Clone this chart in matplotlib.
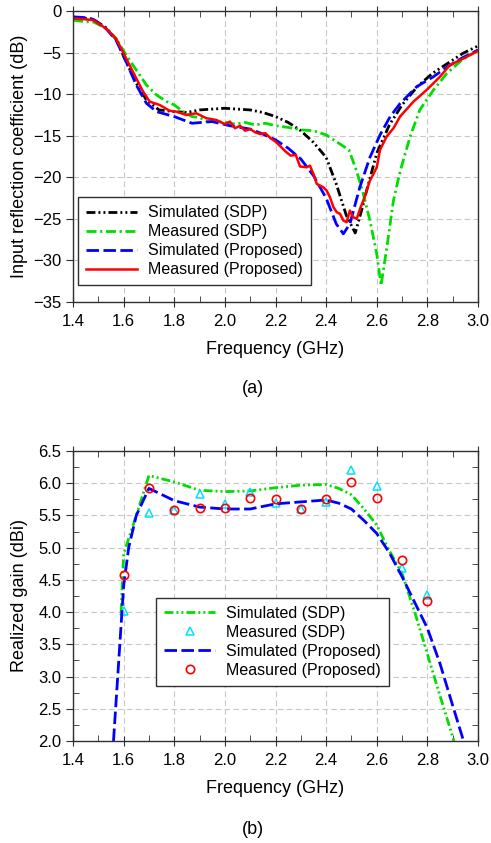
import matplotlib.pyplot as plt
from matplotlib.ticker import MultipleLocator

plt.rcParams["font.family"] = ["Liberation Sans", "DejaVu Sans"]

# (a) input reflection coefficient (dB)
f_sim_sdp = [1.40, 1.45, 1.48, 1.53, 1.57, 1.61, 1.65, 1.69, 1.74, 1.80, 1.85, 1.90, 1.95, 2.00, 2.05,
             2.10, 2.15, 2.20, 2.25, 2.30, 2.35, 2.40, 2.44, 2.48, 2.515, 2.54, 2.56, 2.60, 2.65,
             2.70, 2.76, 2.82, 2.88, 2.94, 3.00]
s_sim_sdp = [-0.8, -0.9, -1.0, -2.0, -3.4, -6.1, -8.7, -10.7, -11.9, -12.1, -12.2, -11.9, -11.8, -11.7, -11.8,
             -11.9, -12.2, -12.7, -13.4, -14.4, -15.8, -17.6, -20.8, -24.6, -26.7, -24.0, -21.6, -17.1, -13.7,
             -11.3, -9.1, -7.5, -6.3, -5.1, -4.2]

f_meas_sdp = [1.40, 1.45, 1.48, 1.53, 1.57, 1.61, 1.65, 1.69, 1.73, 1.77, 1.80, 1.835, 1.87, 1.90, 1.93,
              1.96, 2.00, 2.04, 2.08, 2.12, 2.16, 2.20, 2.25, 2.30, 2.35, 2.40, 2.45, 2.49, 2.52, 2.547,
              2.573, 2.60, 2.617, 2.64, 2.666, 2.693, 2.732, 2.77, 2.824, 2.877, 2.94, 3.00]
s_meas_sdp = [-1.1, -1.3, -1.3, -2.1, -3.3, -5.3, -7.1, -8.9, -10.1, -10.9, -11.3, -12.1, -12.7, -12.8, -13.3,
              -13.3, -13.4, -13.6, -13.4, -13.7, -13.5, -13.8, -14.0, -14.3, -14.4, -14.9, -15.9, -16.7, -19.2, -22.0,
              -25.2, -29.2, -33.0, -28.4, -22.8, -19.2, -15.1, -11.9, -9.5, -7.5, -5.8, -4.7]

f_sim_prop = [1.40, 1.45, 1.48, 1.53, 1.57, 1.61, 1.65, 1.69, 1.73, 1.80, 1.87, 1.95, 2.02, 2.10, 2.15,
              2.20, 2.25, 2.30, 2.35, 2.40, 2.44, 2.468, 2.494, 2.533, 2.573, 2.613, 2.653, 2.693,
              2.758, 2.824, 2.88, 2.94, 3.00]
s_sim_prop = [-0.7, -0.8, -1.0, -2.1, -3.5, -6.1, -8.9, -11.1, -12.1, -12.7, -13.5, -13.3, -13.8, -14.2, -14.8,
              -15.5, -16.5, -17.8, -19.8, -22.5, -25.6, -26.8, -25.6, -21.2, -17.6, -14.9, -12.7, -11.1,
              -9.1, -7.9, -6.7, -5.6, -4.7]

f_meas_prop = [1.40, 1.45, 1.48, 1.53, 1.57, 1.61, 1.65, 1.677, 1.703, 1.742, 1.782, 1.808, 1.848, 1.887,
               1.927, 1.966, 2.00, 2.02, 2.04, 2.06, 2.08, 2.10, 2.12, 2.14, 2.16, 2.18, 2.20, 2.22, 2.24,
               2.26, 2.28, 2.297, 2.323, 2.336, 2.35, 2.363, 2.376, 2.389, 2.402, 2.415, 2.429, 2.442,
               2.455, 2.468, 2.481, 2.494, 2.507, 2.521, 2.534, 2.547, 2.56, 2.573, 2.587, 2.60, 2.613,
               2.639, 2.666, 2.692, 2.745, 2.797, 2.85, 2.889, 2.95, 3.00]
s_meas_prop = [-0.9, -1.0, -1.1, -2.1, -3.3, -5.7, -8.1, -9.7, -10.9, -11.3, -12.0, -12.1, -12.5, -12.3,
               -12.9, -13.1, -13.6, -13.3, -14.1, -13.8, -14.4, -14.2, -14.6, -14.8, -14.7, -15.3, -15.7, -16.3, -16.9,
               -17.4, -17.3, -18.7, -18.8, -18.6, -19.6, -20.8, -21.0, -21.2, -21.6, -22.4, -23.6, -24.2,
               -24.4, -25.2, -25.4, -24.0, -24.8, -25.0, -23.8, -22.8, -21.6, -20.4, -19.6, -18.8, -16.7,
               -15.1, -14.1, -12.7, -10.9, -9.5, -7.9, -6.5, -5.6, -4.8]

# (b) realized gain (dBi)
f_gain_sdp = [1.59, 1.60, 1.65, 1.70, 1.80, 1.90, 2.00, 2.10, 2.20, 2.30, 2.40, 2.45, 2.50, 2.55, 2.60,
              2.65, 2.70, 2.75, 2.80, 2.85, 2.905]
g_sim_sdp = [4.0, 4.9, 5.5, 6.12, 6.02, 5.89, 5.87, 5.88, 5.93, 5.97, 5.98, 5.92, 5.82, 5.6, 5.35,
             4.95, 4.6, 4.0, 3.35, 2.7, 2.0]

f_gain_prop = [1.56, 1.58, 1.60, 1.62, 1.65, 1.70, 1.80, 1.90, 2.00, 2.10, 2.20, 2.30, 2.40, 2.45, 2.50,
               2.55, 2.60, 2.65, 2.70, 2.75, 2.80, 2.85, 2.90, 2.943]
g_sim_prop = [2.0, 3.2, 4.4, 5.0, 5.5, 5.92, 5.73, 5.63, 5.6, 5.6, 5.68, 5.71, 5.74, 5.69, 5.6,
              5.42, 5.22, 4.92, 4.55, 4.15, 3.75, 3.2, 2.55, 2.0]

f_meas = [1.6, 1.7, 1.8, 1.9, 2.0, 2.1, 2.2, 2.3, 2.4, 2.5, 2.6, 2.7, 2.8]
g_meas_sdp = [4.01, 5.54, 5.58, 5.84, 5.67, 5.86, 5.7, 5.6, 5.71, 6.21, 5.96, 4.68, 4.27]
g_meas_prop = [4.58, 5.93, 5.58, 5.61, 5.61, 5.77, 5.76, 5.6, 5.75, 6.02, 5.77, 4.81, 4.18]

green = "#00dd00"
dash_dot_dot = (0, (3.2, 1.1, 0.7, 1.1, 0.7, 1.1))
dash_dot = (0, (3.6, 1.3, 0.8, 1.3))
long_dash = (0, (4.5, 1.6))

fig = plt.figure(figsize=(4.91, 8.43), dpi=100)
ax1 = fig.add_axes([73 / 491, 1 - 302 / 843, 405 / 491, 291 / 843])
ax2 = fig.add_axes([73 / 491, 1 - 741 / 843, 405 / 491, 290 / 843])

ax1.plot(f_sim_sdp, s_sim_sdp, color="black", lw=2, linestyle=dash_dot_dot, label="Simulated (SDP)")
ax1.plot(f_meas_sdp, s_meas_sdp, color=green, lw=2, linestyle=dash_dot, label="Measured (SDP)")
ax1.plot(f_sim_prop, s_sim_prop, color="#0000ff", lw=2, linestyle=long_dash, label="Simulated (Proposed)")
ax1.plot(f_meas_prop, s_meas_prop, color="#ff0000", lw=1.8, label="Measured (Proposed)")

ax2.plot(f_gain_sdp, g_sim_sdp, color=green, lw=2, linestyle=dash_dot_dot, label="Simulated (SDP)")
ax2.plot(f_meas, g_meas_sdp, linestyle="none", marker="^", ms=6, mfc="none", mec="#00e0ff", mew=1.1,
         label="Measured (SDP)")
ax2.plot(f_gain_prop, g_sim_prop, color="#0000ff", lw=2, linestyle=long_dash, label="Simulated (Proposed)")
ax2.plot(f_meas, g_meas_prop, linestyle="none", marker="o", ms=6, mfc="none", mec="#ff0000", mew=1.2,
         label="Measured (Proposed)")

for ax in (ax1, ax2):
    ax.set_xlim(1.4, 3.0)
    ax.xaxis.set_major_locator(MultipleLocator(0.2))
    ax.xaxis.set_minor_locator(MultipleLocator(0.1))
    ax.xaxis.set_major_formatter(lambda v, p: f"{v:.1f}")
    ax.grid(True, which="major", color="#c8c8c8", linestyle=(0, (5, 3)), lw=0.8)
    ax.tick_params(axis="x", which="major", direction="inout", top=True, length=7, labelsize=12, pad=5,
                   colors="#303030", labelcolor="black")
    ax.tick_params(axis="x", which="minor", direction="in", top=True, length=4, colors="#303030")
    ax.tick_params(axis="y", which="major", direction="out", length=5, labelsize=12, colors="#303030",
                   labelcolor="black")
    ax.tick_params(axis="y", which="minor", direction="in", right=True, length=4, colors="#303030")
    ax.set_xlabel("Frequency (GHz)", fontsize=13, labelpad=9)
    for s in ax.spines.values():
        s.set_color("#303030")
        s.set_linewidth(1)
    ax.yaxis.set_label_coords(-0.11, 0.5)

ax1.set_ylim(-35, 0)
ax1.yaxis.set_major_locator(MultipleLocator(5))
ax1.set_ylabel("Input reflection coefficient (dB)", fontsize=13)

ax2.set_ylim(2.0, 6.5)
ax2.yaxis.set_major_locator(MultipleLocator(0.5))
ax2.yaxis.set_minor_locator(MultipleLocator(0.25))
ax2.yaxis.set_major_formatter(lambda v, p: f"{v:.1f}")
ax2.set_ylabel("Realized gain (dBi)", fontsize=13)

leg_kw = dict(loc="lower left", borderaxespad=0, fontsize=11.5, handlelength=3.2, handletextpad=0.7,
              labelspacing=0.25, fancybox=False, framealpha=1, edgecolor="#303030", borderpad=0.5)
leg1 = ax1.legend(bbox_to_anchor=(0.012, 0.058), **leg_kw)
leg2 = ax2.legend(bbox_to_anchor=(0.205, 0.19), **leg_kw)
for leg in (leg1, leg2):
    leg.get_frame().set_linewidth(1)

fig.text(253 / 491, 1 - 389 / 843, "(a)", ha="center", va="center", fontsize=13)
fig.text(253 / 491, 1 - 829 / 843, "(b)", ha="center", va="center", fontsize=13)

fig.savefig("out.png", dpi=100)
